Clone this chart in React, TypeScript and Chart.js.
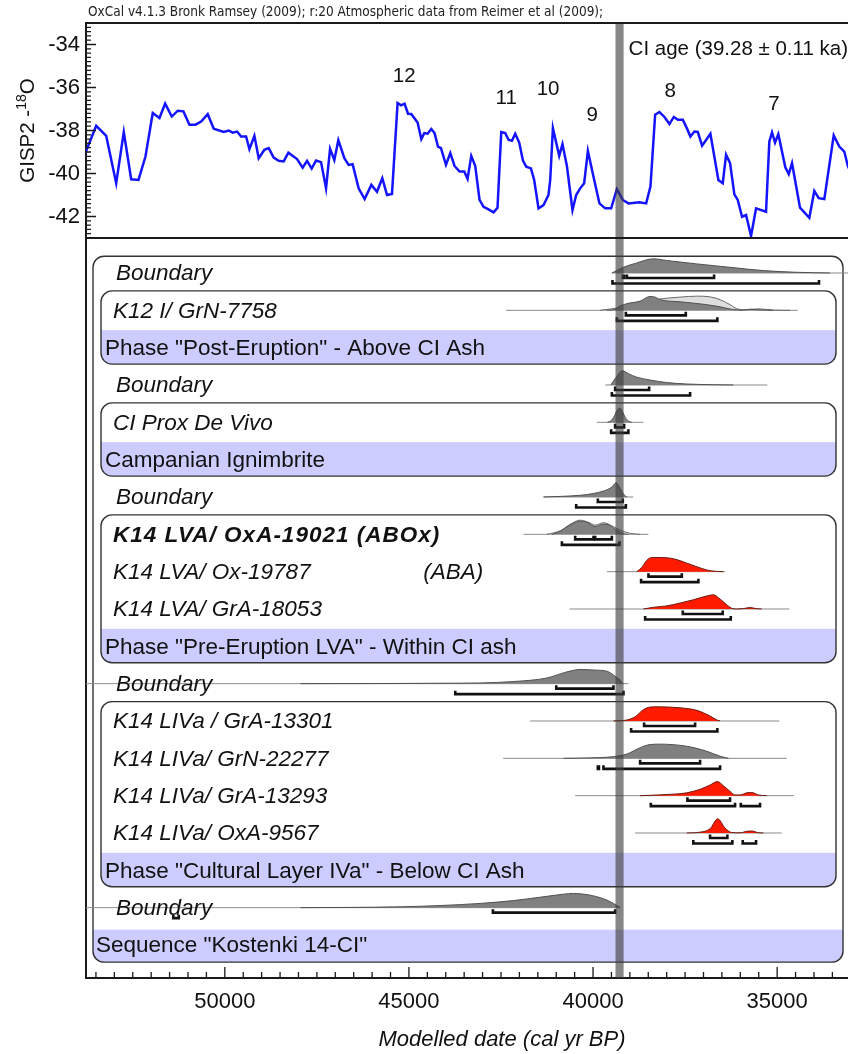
import { useEffect, useRef } from 'react';
import { Chart, registerables } from 'chart.js';

Chart.register(...registerables);

const SANS = '"Liberation Sans", Arial, Helvetica, sans-serif';
const NARROW = '"Liberation Sans Narrow", "DejaVu Sans Condensed", "Liberation Sans", Arial, sans-serif';

// ---------- axes ----------
const xMin = 33076;
const xMax = 53770;
const xTickValues = [50000, 45000, 40000, 35000];
const isoMin = -43;
const isoMax = -33;
const isoTickValues = [-34, -36, -38, -40, -42];
const xTitle = 'Modelled date (cal yr BP)';
const caption = 'OxCal v4.1.3 Bronk Ramsey (2009); r:20 Atmospheric data from Reimer et al (2009);';

// ---------- GISP2 record: [cal yr BP, d18O] ----------
const gispRecord: [number, number][] = [
  [53800, -39.1], [53493, -37.78], [53221, -38.25], [52950, -40.45], [52744, -38.07], [52543, -40.27],
  [52345, -40.3], [52155, -39.21], [51957, -37.19], [51775, -37.42], [51620, -36.75], [51441, -37.35],
  [51278, -37.08], [51124, -37.11], [50961, -37.73], [50798, -37.73], [50643, -37.58], [50464, -37.24],
  [50301, -37.92], [50030, -38.07], [49894, -38.0], [49786, -38.1], [49666, -38.05], [49558, -38.28],
  [49422, -38.28], [49332, -38.87], [49197, -38.25], [49080, -39.29], [48925, -38.9], [48809, -38.82],
  [48673, -39.26], [48537, -39.41], [48402, -39.44], [48274, -39.03], [48038, -39.33], [47886, -39.73],
  [47766, -39.41], [47642, -39.77], [47522, -39.4], [47387, -39.47], [47251, -40.69], [47142, -38.85],
  [47026, -39.37], [46917, -38.45], [46754, -39.29], [46637, -39.6], [46529, -39.57], [46366, -40.69],
  [46203, -41.19], [46021, -40.53], [45867, -40.85], [45723, -40.22], [45595, -41.0], [45460, -40.95],
  [45308, -36.72], [45215, -36.83], [45118, -36.75], [45025, -37.22], [44936, -37.23], [44765, -37.63],
  [44664, -38.4], [44583, -38.12], [44493, -38.15], [44393, -37.93], [44304, -38.12], [44211, -38.75],
  [44130, -38.82], [43994, -39.6], [43877, -39.05], [43761, -39.65], [43625, -39.91], [43497, -39.91],
  [43408, -40.25], [43307, -39.18], [43199, -39.65], [43082, -41.23], [42974, -41.55], [42838, -41.67],
  [42702, -41.81], [42594, -41.59], [42493, -38.07], [42385, -38.12], [42295, -38.43], [42203, -38.48],
  [42113, -38.15], [42005, -38.56], [41904, -39.4], [41815, -39.68], [41687, -39.76], [41598, -40.3],
  [41481, -41.62], [41345, -41.47], [41210, -41.0], [41163, -40.3], [41090, -37.89], [40919, -39.18],
  [40830, -38.63], [40710, -39.65], [40558, -41.7], [40458, -41.0], [40349, -40.69], [40241, -40.45],
  [40140, -38.95], [39988, -40.15], [39826, -41.39], [39671, -41.62], [39508, -41.62], [39353, -40.73],
  [39191, -41.23], [39039, -41.39], [38740, -41.34], [38558, -41.39], [38441, -40.61], [38314, -37.27],
  [38197, -37.14], [38061, -37.37], [37926, -37.7], [37806, -37.37], [37698, -37.5], [37562, -37.5],
  [37454, -37.89], [37356, -38.28], [37247, -38.05], [37155, -38.07], [37038, -38.71], [36813, -38.15],
  [36596, -40.3], [36477, -40.45], [36387, -39.13], [36279, -39.52], [36162, -40.97], [36070, -41.23],
  [35953, -42.01], [35844, -41.93], [35709, -42.91], [35573, -41.62], [35302, -41.78], [35212, -38.51],
  [35139, -38.09], [35057, -38.56], [34968, -38.17], [34778, -39.71], [34685, -40.03], [34596, -39.52],
  [34379, -41.59], [34126, -42.06], [33991, -40.81], [33871, -41.15], [33719, -41.19], [33464, -38.23],
  [33312, -38.75], [33177, -38.98], [33076, -39.68], [32950, -40.1],
];

// Greenland interstadial numbers
const eventLabels = ['12', '11', '10', '9', '8', '7'];
const eventYears = [45128, 42359, 41220, 40026, 37907, 35085];
const eventLevels = [-35.49, -36.52, -36.1, -37.31, -36.19, -36.8];

// Campanian Ignimbrite age
const ciAge = 39280;
const ciError = 110;
const ciLabel = 'CI age (39.28 \u00b1 0.11 ka)';

// ---------- OxCal model rows ----------
const rowLabels = [
  'Boundary',
  'K12 I/ GrN-7758',
  'Phase "Post-Eruption" - Above CI Ash',
  'Boundary',
  'CI Prox De Vivo',
  'Campanian Ignimbrite',
  'Boundary',
  'K14 LVA/ OxA-19021 (ABOx)',
  'K14 LVA/ Ox-19787\u2003\u2003\u2003\u2003\u2003(ABA)',
  'K14 LVA/ GrA-18053',
  'Phase "Pre-Eruption LVA" - Within CI ash',
  'Boundary',
  'K14 LIVa / GrA-13301',
  'K14 LIVa/ GrN-22277',
  'K14 LIVa/ GrA-13293',
  'K14 LIVa/ OxA-9567',
  'Phase "Cultural Layer IVa" - Below CI Ash',
  'Boundary',
  'Sequence "Kostenki 14-CI"',
];
const rowKinds = [
  'boundary', 'date', 'phase', 'boundary', 'date', 'phase', 'boundary', 'dateBold', 'date', 'date',
  'phase', 'boundary', 'date', 'date', 'date', 'date', 'phase', 'boundary', 'sequence',
];
const phaseGroups: [number, number][] = [[1, 2], [4, 5], [7, 10], [12, 16]];
const sequenceGroup: [number, number] = [0, 18];

// probability distributions: [cal yr BP, relative density]
const boundaryTop: [number, number][] = [
  [39489, 0], [39353, 0.17], [39174, 0.4], [38811, 0.71], [38360, 1], [37997, 0.88], [37182, 0.64],
  [36279, 0.4], [35374, 0.17], [34468, 0.05], [33565, 0],
];
const k12Posterior: [number, number][] = [
  [39625, 0], [39400, 0.07], [39264, 0.3], [39082, 0.47], [38722, 0.65], [38450, 0.98], [38314, 0.93],
  [38179, 0.75], [37636, 0.6], [36912, 0.4], [36550, 0.25], [36189, 0.05], [35917, 0.02], [35736, 0.08],
  [35465, 0.03], [35104, 0],
];
const k12Likelihood: [number, number][] = [
  [39807, 0], [39264, 0.2], [38722, 0.5], [38179, 0.8], [37636, 0.93], [37182, 1], [36822, 0.95],
  [36550, 0.75], [36279, 0.4], [36099, 0.12], [35850, 0.04], [35736, 0.06], [35465, 0.1], [35104, 0.02], [34650, 0],
];
const boundaryMid: [number, number][] = [
  [39516, 0], [39400, 0.45], [39283, 0.85], [39201, 1], [39039, 0.8], [38812, 0.55], [38450, 0.35],
  [37997, 0.17], [37454, 0.07], [36733, 0.02], [36190, 0],
];
const ciProxPosterior: [number, number][] = [
  [39610, 0], [39500, 0.14], [39440, 0.36], [39390, 0.62], [39330, 0.91], [39283, 1], [39230, 0.89],
  [39170, 0.59], [39120, 0.33], [39060, 0.13], [38950, 0],
];
const boundaryLva: [number, number][] = [
  [41345, 0], [40803, 0.05], [40350, 0.12], [39988, 0.25], [39717, 0.42], [39489, 0.7], [39373, 1],
  [39264, 0.6], [39156, 0.15], [39082, 0],
];
const oxa19021Posterior: [number, number][] = [
  [41117, 0], [40893, 0.2], [40667, 0.6], [40350, 0.93], [40169, 0.85], [39943, 0.55], [39761, 0.7],
  [39625, 0.72], [39446, 0.45], [39264, 0.15], [39129, 0.02], [39039, 0],
];
const oxa19021Likelihood: [number, number][] = [
  [41253, 0], [40893, 0.25], [40622, 0.7], [40350, 1], [40079, 0.8], [39943, 0.65], [39717, 0.82],
  [39489, 0.6], [39264, 0.3], [38993, 0.07], [38722, 0],
];
const ox19787Likelihood: [number, number][] = [
  [38812, 0], [38676, 0.3], [38540, 0.8], [38405, 1], [37997, 0.98], [37726, 0.85], [37454, 0.6],
  [37182, 0.35], [36912, 0.12], [36641, 0.02], [36461, 0],
];
const gra18053Likelihood: [number, number][] = [
  [38632, 0], [38360, 0.12], [37997, 0.22], [37636, 0.42], [37275, 0.65], [36912, 0.92], [36733, 1],
  [36550, 0.7], [36370, 0.3], [36234, 0.05], [36098, 0], [35917, 0.03], [35736, 0.1], [35555, 0.02], [35419, 0],
];
const boundaryLiva: [number, number][] = [
  [47946, 0], [45775, 0.01], [44150, 0.03], [43064, 0.05], [42159, 0.15], [41253, 0.4], [40710, 0.83],
  [40350, 1], [39896, 0.95], [39625, 0.88], [39400, 0.52], [39264, 0.24], [39191, 0],
];
const gra13301Likelihood: [number, number][] = [
  [39446, 0], [39082, 0.07], [38857, 0.3], [38632, 0.8], [38450, 0.98], [38269, 1], [37636, 0.93],
  [37182, 0.75], [36822, 0.35], [36641, 0.08], [36550, 0],
];
const grn22277Posterior: [number, number][] = [
  [40803, 0], [40079, 0.03], [39446, 0.12], [39082, 0.3], [38722, 0.75], [38450, 0.97], [38179, 1],
  [37454, 0.85], [36912, 0.5], [36550, 0.15], [36325, 0],
];
const gra13293Likelihood: [number, number][] = [
  [38722, 0], [37997, 0.08], [37454, 0.2], [37093, 0.45], [36822, 0.75], [36624, 1], [36461, 0.7],
  [36279, 0.3], [36143, 0.05], [36007, 0.05], [35826, 0.2], [35690, 0.22], [35510, 0.05], [35283, 0],
];
const oxa9567Likelihood: [number, number][] = [
  [37454, 0], [37093, 0.06], [36822, 0.3], [36614, 1], [36415, 0.35], [36234, 0.03], [36007, 0.01],
  [35826, 0.12], [35690, 0.14], [35510, 0.02], [35374, 0],
];
const boundaryStart: [number, number][] = [
  [47946, 0], [46589, 0.02], [45232, 0.06], [44150, 0.15], [43064, 0.3], [42159, 0.5], [41253, 0.8],
  [40803, 0.95], [40531, 1], [40079, 0.88], [39717, 0.63], [39446, 0.3], [39264, 0],
];

// [row, distribution]
const posteriorSet: [number, [number, number][]][] = [
  [0, boundaryTop], [1, k12Posterior], [3, boundaryMid], [4, ciProxPosterior], [6, boundaryLva],
  [7, oxa19021Posterior], [11, boundaryLiva], [13, grn22277Posterior], [17, boundaryStart],
];
const outlierSet: [number, [number, number][]][] = [
  [8, ox19787Likelihood], [9, gra18053Likelihood], [12, gra13301Likelihood], [14, gra13293Likelihood],
  [15, oxa9567Likelihood],
];
const likelihoodSet: [number, [number, number][]][] = [[1, k12Likelihood], [7, oxa19021Likelihood]];

// [row, from, to] extents of the unmodelled distributions
const likelihoodSpans: [number, number, number][] = [
  [0, 39489, 32900], [1, 42359, 34441], [3, 39671, 35266], [4, 39896, 38632], [6, 41345, 38903],
  [7, 41888, 38495], [8, 39625, 36416], [9, 40640, 34669], [11, 54000, 39039], [12, 41707, 34941],
  [13, 42441, 34740], [14, 40485, 34542], [15, 38858, 34877], [17, 54000, 39264],
];
// highest posterior density ranges [row, from, to]
const ranges68: [number, number, number][] = [
  [0, 39190, 39150], [0, 39080, 36713], [1, 39109, 37481], [3, 39400, 38477], [4, 39400, 39156],
  [6, 39870, 39192], [7, 40485, 39987], [7, 39943, 39489], [8, 38495, 37590], [9, 37563, 36478],
  [11, 40999, 39446], [12, 38613, 37228], [13, 38722, 37093], [14, 37437, 36279], [15, 36822, 36352],
  [17, 42720, 39400],
];
const ranges95: [number, number, number][] = [
  [0, 39473, 33864], [1, 39353, 36624], [3, 39489, 37364], [4, 39509, 39040], [6, 40458, 39109],
  [7, 40846, 39283], [8, 38695, 37139], [9, 38585, 36260], [11, 43742, 39174], [12, 38966, 36624],
  [13, 39870, 39840], [13, 39717, 36550], [14, 38431, 36143], [14, 35988, 35465], [15, 37277, 36216],
  [15, 35935, 35573], [17, 51400, 51250],
];

const PEAK = 0.38; // row units for a unit density

function distDataset(points: [number, number][], row: number, fill: string, line: string) {
  return {
    type: 'line',
    xAxisID: 'x',
    yAxisID: 'rows',
    data: points.map(([x, h]) => ({ x, y: row - h * PEAK })),
    fill: { value: row },
    backgroundColor: fill,
    borderColor: line,
    borderWidth: 1,
    pointRadius: 0,
    cubicInterpolationMode: 'monotone',
  };
}

function groupBox(ctx: any, l: number, r: number, t: number, b: number, bandTop: number) {
  ctx.save();
  ctx.beginPath();
  ctx.roundRect(l, t, r - l, b - t, 11);
  ctx.save();
  ctx.clip();
  ctx.fillStyle = '#ccccff';
  ctx.fillRect(l, bandTop, r - l, b - bandTop);
  ctx.restore();
  ctx.lineWidth = 1.4;
  ctx.strokeStyle = '#333';
  ctx.stroke();
  ctx.restore();
}

const decorPlugin = {
  id: 'oxcalDecor',
  beforeDatasetsDraw(chart: any) {
    const { ctx, chartArea: a, scales } = chart;
    const rp = (r: number) => scales.rows.getPixelForValue(r);
    groupBox(ctx, a.left + 7, a.right - 5, rp(sequenceGroup[0] - 0.45), rp(sequenceGroup[1] + 0.46), rp(sequenceGroup[1] - 0.41));
    for (const [first, label] of phaseGroups) {
      groupBox(ctx, a.left + 15, a.right - 12, rp(first - 0.52), rp(label + 0.44), rp(label - 0.47));
    }
  },
  afterDatasetsDraw(chart: any) {
    const { ctx, chartArea: a, scales } = chart;
    const xs = scales.x;
    const iso = scales.iso;
    const rows = scales.rows;
    const rp = (r: number) => rows.getPixelForValue(r);
    ctx.save();

    // HPD range brackets
    ctx.strokeStyle = '#111';
    ctx.lineWidth = 2.6;
    const bracket = (set: [number, number, number][], dy: number) => {
      for (const [row, from, to] of set) {
        const x1 = xs.getPixelForValue(from);
        const x2 = xs.getPixelForValue(to);
        const y = rp(row) + dy;
        ctx.beginPath();
        ctx.moveTo(x1, y - 3.5);
        ctx.lineTo(x1, y);
        ctx.lineTo(x2, y);
        ctx.lineTo(x2, y - 3.5);
        ctx.stroke();
      }
    };
    bracket(ranges68, 5);
    bracket(ranges95, 10.5);

    // row labels
    ctx.fillStyle = '#111';
    ctx.textBaseline = 'middle';
    ctx.textAlign = 'left';
    rowLabels.forEach((label, i) => {
      const kind = rowKinds[i];
      let font = `italic 22.5px ${SANS}`;
      let x = a.left + 27;
      ctx.letterSpacing = '0px';
      if (kind === 'boundary') x = a.left + 30;
      if (kind === 'dateBold') { font = `italic bold 22.5px ${SANS}`; ctx.letterSpacing = '1px'; }
      if (kind === 'phase') { font = `22.5px ${SANS}`; x = a.left + 19; }
      if (kind === 'sequence') { font = `22.5px ${SANS}`; x = a.left + 10; }
      ctx.font = font;
      ctx.fillText(label, x, rp(i) + 1);
    });
    ctx.letterSpacing = '0px';

    // CI age band
    const bx1 = xs.getPixelForValue(ciAge + ciError);
    const bx2 = xs.getPixelForValue(ciAge - ciError);
    ctx.fillStyle = 'rgba(60,60,60,0.62)';
    ctx.fillRect(bx1, a.top, bx2 - bx1, a.bottom - a.top);

    // frame lines
    ctx.strokeStyle = '#1a1a1a';
    ctx.lineWidth = 2;
    ctx.beginPath();
    ctx.moveTo(a.left, a.top);
    ctx.lineTo(a.right, a.top);
    ctx.moveTo(a.left, iso.bottom);
    ctx.lineTo(a.right, iso.bottom);
    ctx.stroke();

    // inward ticks
    ctx.lineWidth = 1.3;
    ctx.beginPath();
    for (let k = 0; k <= 50; k++) {
      const v = isoMin + k * 0.2;
      const major = k % 10 === 5;
      const y = iso.getPixelForValue(v);
      ctx.moveTo(a.left, y);
      ctx.lineTo(a.left + (major ? 10 : 5), y);
    }
    for (let v = 33500; v <= 53500; v += 500) {
      const major = v % 5000 === 0;
      const x = xs.getPixelForValue(v);
      ctx.moveTo(x, a.bottom);
      ctx.lineTo(x, a.bottom - (major ? 11 : 6));
    }
    ctx.stroke();

    // event numbers and CI label
    ctx.fillStyle = '#111';
    ctx.font = `20.5px ${SANS}`;
    ctx.textAlign = 'center';
    eventLabels.forEach((t, i) => {
      ctx.fillText(t, xs.getPixelForValue(eventYears[i]), iso.getPixelForValue(eventLevels[i]));
    });
    ctx.textAlign = 'left';
    ctx.fillText(ciLabel, bx2 + 5, iso.getPixelForValue(-34.23));

    // caption
    ctx.font = `13.5px ${NARROW}`;
    ctx.fillStyle = '#222';
    ctx.fillText(caption, a.left + 2, 12);

    // x title
    ctx.font = `italic 22px ${SANS}`;
    ctx.textAlign = 'center';
    ctx.fillStyle = '#111';
    ctx.fillText(xTitle, 502, 1040);

    // y title with superscript
    ctx.translate(28, (iso.top + iso.bottom) / 2);
    ctx.rotate(-Math.PI / 2);
    const p1 = 'GISP2 -';
    const p2 = '18';
    const p3 = 'O';
    ctx.font = `20.5px ${SANS}`;
    const w1 = ctx.measureText(p1).width;
    const w3 = ctx.measureText(p3).width;
    ctx.font = `14px ${SANS}`;
    const w2 = ctx.measureText(p2).width;
    let cx = -(w1 + w2 + w3) / 2;
    ctx.textAlign = 'left';
    ctx.font = `20.5px ${SANS}`;
    ctx.fillText(p1, cx, 0);
    cx += w1;
    ctx.font = `14px ${SANS}`;
    ctx.fillText(p2, cx, -6);
    cx += w2;
    ctx.font = `20.5px ${SANS}`;
    ctx.fillText(p3, cx, 0);
    ctx.restore();
  },
};

export default function App() {
  const ref = useRef<HTMLCanvasElement>(null);
  useEffect(() => {
    const datasets: any[] = [];
    datasets.push({
      type: 'line',
      xAxisID: 'x',
      yAxisID: 'iso',
      data: gispRecord.map(([x, y]) => ({ x, y })),
      borderColor: '#1414ff',
      borderWidth: 2.5,
      pointRadius: 0,
      fill: false,
      tension: 0,
    });
    for (const [row, pts] of posteriorSet) datasets.push(distDataset(pts, row, '#808080', '#505050'));
    for (const [row, pts] of outlierSet) datasets.push(distDataset(pts, row, '#ff1a00', '#6a1a10'));
    for (const [row, pts] of likelihoodSet) datasets.push(distDataset(pts, row, '#dedede', '#6a6a6a'));
    for (const [row, from, to] of likelihoodSpans) {
      datasets.push({
        type: 'line',
        xAxisID: 'x',
        yAxisID: 'rows',
        data: [{ x: from, y: row }, { x: to, y: row }],
        borderColor: '#8a8a8a',
        borderWidth: 1,
        pointRadius: 0,
        fill: false,
      });
    }

    const chart = new Chart(ref.current as HTMLCanvasElement, {
      type: 'line',
      data: { datasets },
      options: {
        responsive: false,
        animation: false,
        devicePixelRatio: 1,
        layout: { padding: { top: 23, left: 0, right: 0, bottom: 0 } },
        plugins: { legend: { display: false }, tooltip: { enabled: false }, title: { display: false } },
        scales: {
          x: {
            type: 'linear',
            position: 'bottom',
            min: xMin,
            max: xMax,
            reverse: true,
            grid: { display: false, drawTicks: false },
            border: { display: true, color: '#1a1a1a', width: 2 },
            ticks: {
              font: { family: SANS, size: 22 },
              color: '#111',
              padding: 11,
              maxRotation: 0,
              autoSkip: false,
              callback: (v: any) => String(v),
            },
            afterBuildTicks: (s: any) => { s.ticks = xTickValues.map((v) => ({ value: v })); },
            afterFit: (s: any) => { s.height = 76; },
          },
          rows: {
            type: 'linear',
            position: 'left',
            stack: 'panels',
            stackWeight: 740,
            weight: 0,
            min: -0.9375,
            max: 18.884,
            reverse: true,
            grid: { display: false, drawTicks: false },
            border: { display: true, color: '#1a1a1a', width: 2 },
            ticks: { display: false },
            afterFit: (s: any) => { s.width = 86; },
          },
          iso: {
            type: 'linear',
            position: 'left',
            stack: 'panels',
            stackWeight: 215,
            weight: 1,
            min: isoMin,
            max: isoMax,
            grid: { display: false, drawTicks: false },
            border: { display: true, color: '#1a1a1a', width: 2 },
            ticks: { font: { family: SANS, size: 22 }, color: '#111', padding: 6, autoSkip: false },
            afterBuildTicks: (s: any) => { s.ticks = isoTickValues.map((v) => ({ value: v })); },
            afterFit: (s: any) => { s.width = 86; },
          },
        },
      } as any,
      plugins: [decorPlugin],
    } as any);
    return () => chart.destroy();
  }, []);
  return (
    <div style={{ position: 'absolute', left: 0, top: 0, width: 848, height: 1054, background: '#fff', overflow: 'hidden' }}>
      <canvas ref={ref} width={848} height={1054} style={{ display: 'block', width: 848, height: 1054 }} />
    </div>
  );
}
